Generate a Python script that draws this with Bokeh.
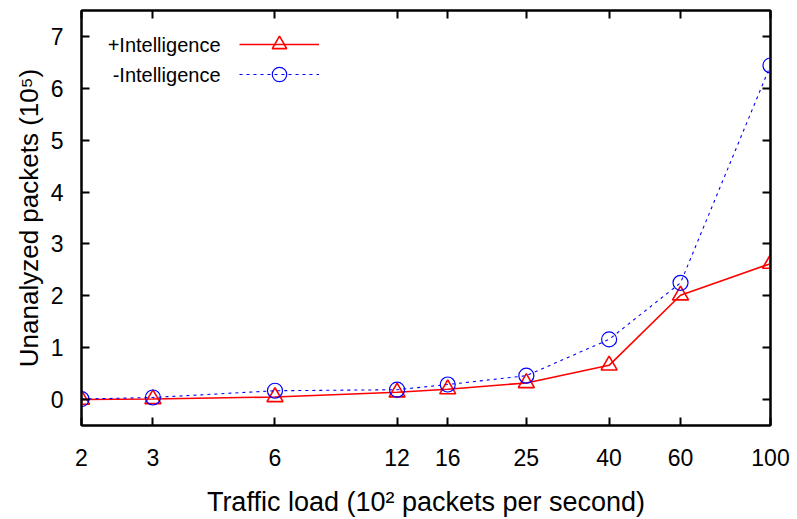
from bokeh.plotting import figure
from bokeh.models import (FixedTicker, NumeralTickFormatter, LogAxis, LinearAxis,
                          Legend, LegendItem, Label, Range1d, CustomJSTickFormatter)
from bokeh.embed import file_html
from bokeh.resources import INLINE

loads = [2, 3, 6, 12, 16, 25, 40, 60, 100]
with_intel = [0.00, 0.01, 0.05, 0.14, 0.20, 0.32, 0.66, 2.01, 2.62]
without_intel = [0.01, 0.04, 0.17, 0.19, 0.29, 0.46, 1.16, 2.25, 6.44]
x_ticks = [2, 3, 6, 12, 16, 25, 40, 60, 100]
y_ticks = [0, 1, 2, 3, 4, 5, 6, 7]

FONT = "Liberation Sans"

p = figure(width=797, height=519, output_backend="svg", toolbar_location=None,
           x_axis_type="log", x_range=Range1d(2, 100), y_range=Range1d(-0.5, 7.5),
           min_border_left=81, min_border_right=27, min_border_top=10, min_border_bottom=92)
p.background_fill_color = "white"
p.border_fill_color = "white"
p.grid.visible = False
p.outline_line_color = "black"
p.outline_line_width = 2

def style_axis(ax, show_labels):
    ax.major_tick_in = 8
    ax.major_tick_out = 0
    ax.minor_tick_in = 0
    ax.minor_tick_out = 0
    ax.major_tick_line_width = 2
    ax.major_tick_line_color = "black"
    ax.axis_line_width = 2
    ax.axis_line_color = "black"
    ax.major_label_text_font = FONT
    ax.major_label_text_color = "black"
    ax.axis_label_text_color = "black"
    if not show_labels:
        ax.formatter = CustomJSTickFormatter(code="return '';")
        ax.major_label_standoff = 0

xa = p.xaxis[0]
xa.ticker = FixedTicker(ticks=x_ticks, minor_ticks=[])
xa.formatter = NumeralTickFormatter(format="0")
style_axis(xa, True)
xa.major_label_text_font_size = "23px"
xa.major_label_standoff = 23
xa.axis_label = "Traffic load (10² packets per second)"
xa.axis_label_text_font = FONT
xa.axis_label_text_font_size = "27px"
xa.axis_label_text_font_style = "normal"
xa.axis_label_standoff = 18

ya = p.yaxis[0]
ya.ticker = FixedTicker(ticks=y_ticks, minor_ticks=[])
style_axis(ya, True)
ya.major_label_text_font_size = "23px"
ya.major_label_standoff = 18
ya.axis_label = "Unanalyzed packets (10⁵)"
ya.axis_label_text_font = FONT
ya.axis_label_text_font_size = "26px"
ya.axis_label_text_font_style = "normal"
ya.axis_label_standoff = 4

top = LogAxis(ticker=FixedTicker(ticks=x_ticks, minor_ticks=[]))
style_axis(top, False)
p.add_layout(top, "above")
right = LinearAxis(ticker=FixedTicker(ticks=y_ticks, minor_ticks=[]))
style_axis(right, False)
p.add_layout(right, "right")

l1 = p.line(loads, with_intel, line_color="red", line_width=1.6)
m1 = p.scatter(loads, with_intel, marker="triangle", size=16, fill_color=None,
               line_color="red", line_width=1.6)
l2 = p.line(loads, without_intel, line_color="blue", line_width=1.1, line_dash="3 4")
m2 = p.scatter(loads, without_intel, marker="circle", size=15, fill_color=None,
               line_color="blue", line_width=1.2)

for rends, ly in [([l1, m1], 363), ([l2, m2], 333)]:
    lg = Legend(items=[LegendItem(label="", renderers=rends)],
                location=(158, ly), glyph_width=80, glyph_height=36, spacing=0,
                padding=0, margin=0, label_width=0, label_standoff=0,
                border_line_alpha=0, background_fill_alpha=0)
    p.add_layout(lg)

# frame-relative screen positions (x from frame left, y up from frame bottom)
for txt, ys in [("+Intelligence", 381), ("-Intelligence", 351)]:
    p.add_layout(Label(x=139, y=ys, x_units="screen", y_units="screen", text=txt,
                       text_align="right", text_baseline="middle",
                       text_font=FONT, text_font_size="20px", text_color="black"))

open("out.html", "w").write(file_html(p, INLINE))
